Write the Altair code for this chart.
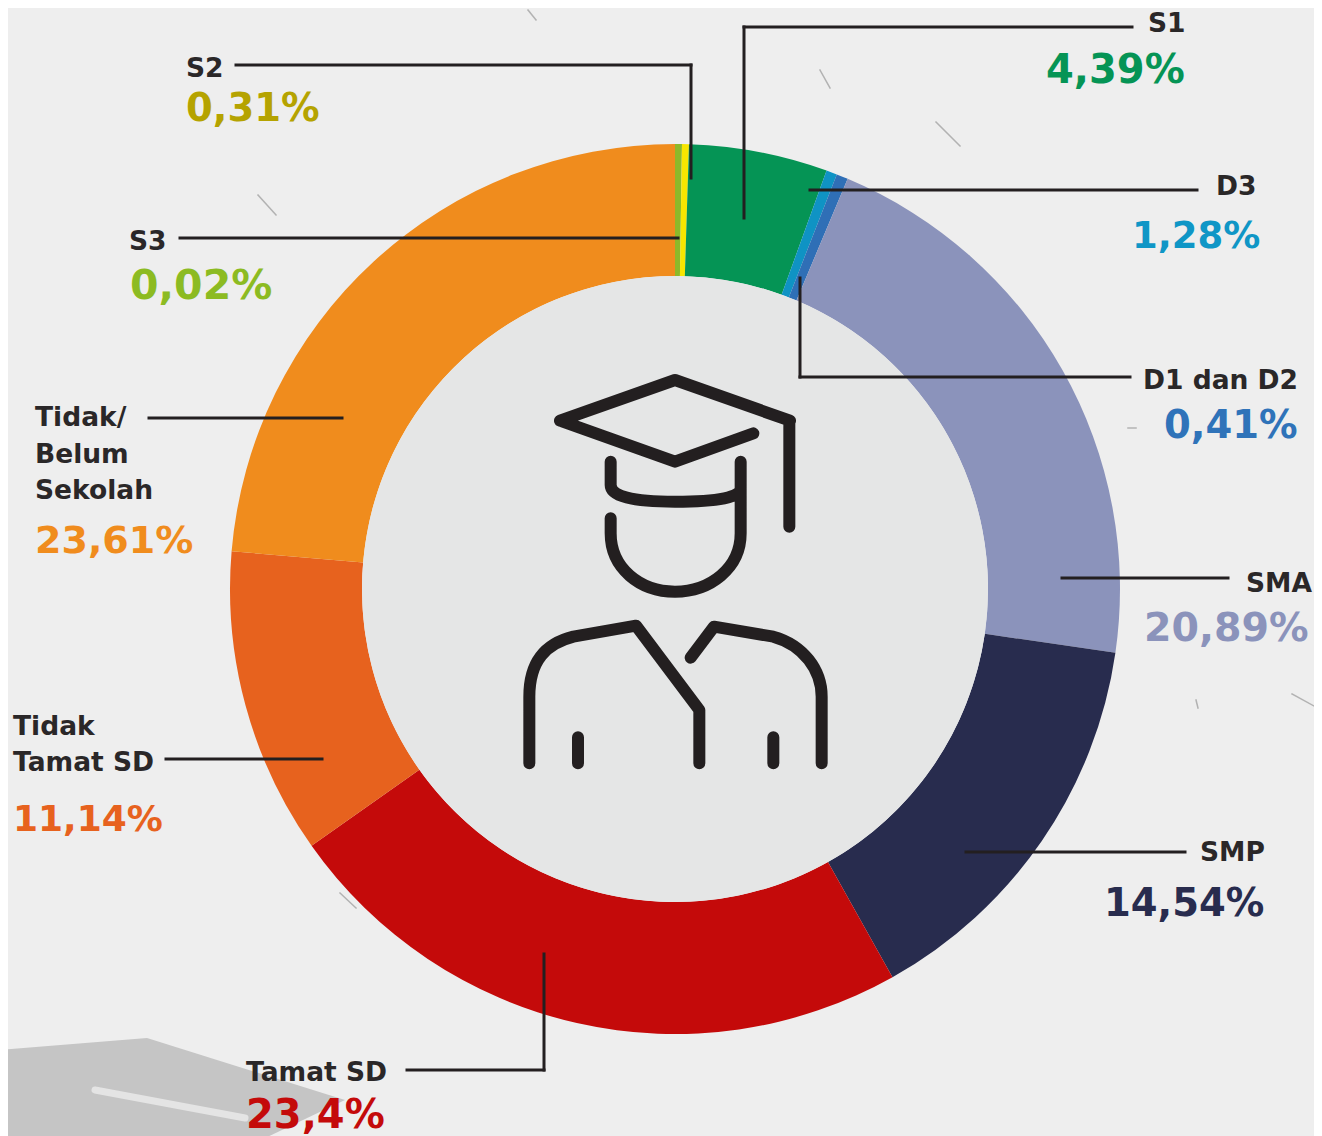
import altair as alt
import pandas as pd

slice_names = ["S3", "S2", "S1", "D3", "D1 dan D2", "SMA", "SMP", "Tamat SD", "Tidak Tamat SD", "Tidak/Belum Sekolah"]
slice_shares = [0.25, 0.25, 5.03, 0.39, 0.42, 20.94, 14.58, 23.33, 11.14, 23.64]
slice_colors = ["#8cb92a", "#f7e600", "#059455", "#0f93c4", "#2f6fb6", "#8b93bb", "#282c4e", "#c40a0a", "#e7621e", "#f08c1d"]

label_texts = ["S1", "S2", "S3", "D3", "D1 dan D2", "SMA", "SMP", "Tamat SD", "Tidak", "Tamat SD", "Tidak/", "Belum", "Sekolah"]
pct_texts = ["4,39%", "0,31%", "0,02%", "1,28%", "0,41%", "20,89%", "14,54%", "23,4%", "11,14%", "23,61%"]
pct_colors = ["#059455", "#b5a300", "#8cbb22", "#0f96c6", "#2f73b9", "#8b93bb", "#282c4e", "#c40a0a", "#e7621e", "#f08c1d"]

# Layout, in reference pixels, kept apart from the values above
label_x = [1148, 186, 129, 1216, 1143, 1246, 1200, 246, 13, 13, 35, 35, 35]
label_y = [32, 77, 250, 195, 389, 592, 861, 1081, 735, 771, 426, 463, 499]
pct_x = [1046, 186, 130, 1132, 1164, 1144, 1104, 246, 13, 35]
pct_y = [83, 121, 299, 248, 438, 641, 916, 1128, 831, 553]
pct_size = [40, 38.5, 41, 37, 38.5, 39.5, 38.5, 40, 36, 38]

# Leader lines, segment by segment: x, y, x2, y2
leader_rows = [
    (1132, 27, 744, 27), (744, 27, 744, 218),
    (236, 65, 691, 65), (691, 65, 691, 178),
    (180, 238, 678, 238),
    (810, 190, 1197, 190),
    (800, 278, 800, 377), (800, 377, 1130, 377),
    (1062, 578, 1228, 578),
    (966, 852, 1185, 852),
    (544, 954, 544, 1070), (544, 1070, 407, 1070),
    (166, 759, 322, 759),
    (149, 418, 342, 418),
]

# Paper scratches
scratch_rows = [
    (258, 195, 276, 215), (936, 122, 960, 146), (1292, 694, 1314, 706), (340, 893, 356, 908),
    (528, 10, 536, 20), (1128, 428, 1136, 428), (1196, 700, 1198, 708), (820, 70, 830, 88),
]

M = 8
CX, CY = 675 - M, 589 - M
INK = "#2a2728"

ICON = (
    "M150 182L495 60L840 182L838 182L838 500 M150 182L495 305L730 220 "
    "M302 305L302 375Q302 425 495 425Q692 425 692 385 M692 305L692 520 "
    "M302 475L302 520C302 625 390 695 495 695C600 695 692 625 692 520 "
    "M58 1210L58 1010C58 900 110 850 190 830L378 797L568 1050L568 1210 "
    "M542 893L612 800L790 830C880 855 935 930 935 1010L935 1210 "
    "M204 1132L204 1210 M790 1132L790 1210"
)
CAP = "M0 30L147 18L345 80L240 130L0 130Z"
TASSEL = "M95 70L245 98"

slices = pd.DataFrame({"name": slice_names, "share": slice_shares, "order": range(len(slice_names))})
labels = pd.DataFrame({"t": label_texts, "x": label_x, "y": label_y})
pcts = pd.DataFrame({"t": pct_texts, "x": pct_x, "y": pct_y, "c": pct_colors, "s": pct_size})
leaders = pd.DataFrame(leader_rows, columns=["x", "y", "x2", "y2"])
scratches = pd.DataFrame(scratch_rows, columns=["x", "y", "x2", "y2"])
for df in (labels, pcts, leaders, scratches):
    df["x"] -= M
    df["y"] -= M
for df in (leaders, scratches):
    df["x2"] -= M
    df["y2"] -= M

one = pd.DataFrame({"a": [0]})

def rule_layer(df, color, width, opacity=1):
    return alt.Chart(df).mark_rule(stroke=color, strokeWidth=width, strokeCap="square", opacity=opacity).encode(
        x=alt.X("x:Q", scale=None, axis=None), y=alt.Y("y:Q", scale=None, axis=None),
        x2="x2:Q", y2="y2:Q")

cap = alt.Chart(one).mark_point(shape=CAP, size=4, filled=True, fill="#c5c5c5", stroke=None, opacity=1).encode(
    x=alt.value(0 - M), y=alt.value(1020 - M))
tassel = alt.Chart(one).mark_point(shape=TASSEL, size=4, filled=False, stroke="#e4e4e4", strokeWidth=7, strokeCap="round", opacity=1).encode(
    x=alt.value(0 - M), y=alt.value(1020 - M))

ring = alt.Chart(slices).mark_arc(radius=445, radius2=313).encode(
    theta=alt.Theta("share:Q", stack=True),
    order=alt.Order("order:Q"),
    color=alt.Color("name:N", scale=alt.Scale(domain=slice_names, range=slice_colors), legend=None),
    x=alt.value(CX), y=alt.value(CY))

disc = alt.Chart(one).mark_arc(radius=313, theta=0, theta2=6.2832, fill="#e5e6e6").encode(
    x=alt.value(CX), y=alt.value(CY))

icon = alt.Chart(one).mark_point(shape=ICON, size=4 / 9, filled=False, stroke="#231f20", strokeWidth=12, strokeCap="round", strokeJoin="round", opacity=1).encode(
    x=alt.value(510 - M), y=alt.value(360 - M))

label_text = alt.Chart(labels).mark_text(align="left", baseline="alphabetic", font="DejaVu Sans", fontWeight="bold", fontSize=26.5, color=INK).encode(
    x=alt.X("x:Q", scale=None, axis=None), y=alt.Y("y:Q", scale=None, axis=None), text="t:N")

pct_text = alt.Chart(pcts).mark_text(align="left", baseline="alphabetic", font="DejaVu Sans", fontWeight="bold").encode(
    x=alt.X("x:Q", scale=None, axis=None), y=alt.Y("y:Q", scale=None, axis=None), text="t:N",
    color=alt.Color("c:N", scale=None, legend=None),
    size=alt.Size("s:Q", scale=None, legend=None))

chart = alt.layer(
    rule_layer(scratches, "#8a8a8a", 1.5, 0.6),
    cap, tassel, ring, disc, icon,
    rule_layer(leaders, "#231f20", 3),
    label_text, pct_text,
).resolve_scale(color="independent", x="independent", y="independent").properties(
    width=1306, height=1128, padding=0, background="#eeeeee", autosize=alt.AutoSizeParams(type="none")
).configure_view(stroke=None)

chart.save("out.html", embed_options={"renderer": "svg", "actions": False})
